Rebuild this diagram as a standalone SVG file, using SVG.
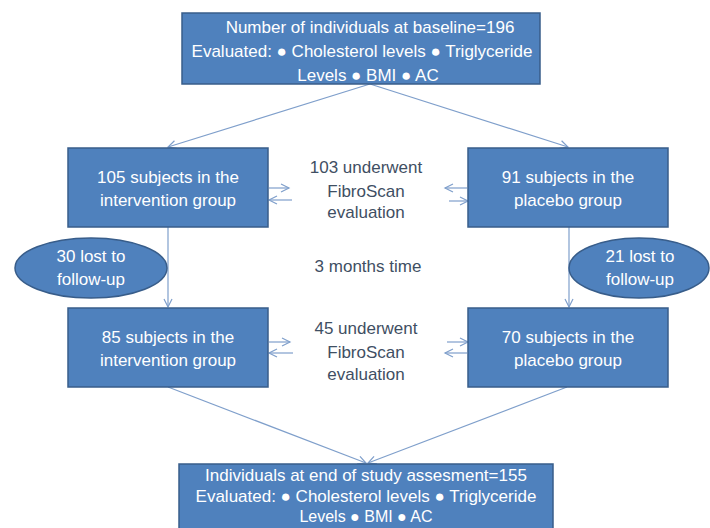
<svg xmlns="http://www.w3.org/2000/svg" width="710" height="528" viewBox="0 0 710 528">
<style>
.box{fill:#4f81bd;stroke:#385d8a;stroke-width:1.5}
.wt{fill:#ffffff;font-family:"Liberation Sans",Arial,sans-serif;font-size:17px;text-anchor:middle}
.gt{fill:#3f4f63;font-family:"Liberation Sans",Arial,sans-serif;font-size:17px;text-anchor:middle}
.ln{stroke:#7f9fcb;stroke-width:1.2;fill:none}
</style>
<defs>
<marker id="ah" markerUnits="userSpaceOnUse" markerWidth="12" markerHeight="12" refX="9" refY="5" orient="auto">
<path d="M1,1 L9,5 L1,9" fill="none" stroke="#7f9fcb" stroke-width="1.2"/>
</marker>
</defs>
<rect width="710" height="528" fill="#ffffff"/>
<g id="connectors">
<line class="ln" x1="370" y1="84" x2="168" y2="147" marker-end="url(#ah)"/>
<line class="ln" x1="370" y1="84" x2="568" y2="147" marker-end="url(#ah)"/>
<line class="ln" x1="168" y1="227" x2="168" y2="307" marker-end="url(#ah)"/>
<line class="ln" x1="569" y1="227" x2="569" y2="307" marker-end="url(#ah)"/>
<line class="ln" x1="168" y1="387" x2="366" y2="463" marker-end="url(#ah)"/>
<line class="ln" x1="567" y1="387" x2="368" y2="463" marker-end="url(#ah)"/>
<line class="ln" x1="269" y1="188" x2="289" y2="188" marker-end="url(#ah)"/>
<line class="ln" x1="292" y1="200" x2="269" y2="200" marker-end="url(#ah)"/>
<line class="ln" x1="467" y1="188" x2="445" y2="188" marker-end="url(#ah)"/>
<line class="ln" x1="449" y1="201" x2="468" y2="201" marker-end="url(#ah)"/>
<line class="ln" x1="269" y1="342" x2="290" y2="342" marker-end="url(#ah)"/>
<line class="ln" x1="293" y1="353" x2="269" y2="353" marker-end="url(#ah)"/>
<line class="ln" x1="447" y1="342" x2="468" y2="342" marker-end="url(#ah)"/>
<line class="ln" x1="467" y1="353" x2="445" y2="353" marker-end="url(#ah)"/>
</g>
<g id="baseline">
<rect class="box" x="182" y="13" width="358" height="71"/>
<text class="wt" x="370" y="33">Number of individuals at baseline=196</text>
<text class="wt" x="362" y="57">Evaluated: ● Cholesterol levels ● Triglyceride</text>
<text class="wt" x="368" y="81">Levels ● BMI ● AC</text>
</g>
<g id="intervention1">
<rect class="box" x="68" y="148" width="200" height="79"/>
<text class="wt" x="168" y="183">105 subjects in the</text>
<text class="wt" x="168" y="206">intervention group</text>
</g>
<g id="placebo1">
<rect class="box" x="468" y="148" width="200" height="79"/>
<text class="wt" x="568" y="183">91 subjects in the</text>
<text class="wt" x="568" y="206">placebo group</text>
</g>
<g id="fibro1">
<text class="gt" x="366" y="173">103 underwent</text>
<text class="gt" x="366" y="197">FibroScan</text>
<text class="gt" x="366" y="218">evaluation</text>
</g>
<g id="months">
<text class="gt" x="368" y="272">3 months time</text>
</g>
<g id="lost1">
<ellipse class="box" cx="91" cy="268" rx="76" ry="30"/>
<text class="wt" x="91" y="262">30 lost to</text>
<text class="wt" x="91" y="285">follow-up</text>
</g>
<g id="lost2">
<ellipse class="box" cx="639" cy="268" rx="70" ry="30"/>
<text class="wt" x="640" y="262">21 lost to</text>
<text class="wt" x="640" y="285">follow-up</text>
</g>
<g id="intervention2">
<rect class="box" x="68" y="308" width="200" height="79"/>
<text class="wt" x="168" y="343">85 subjects in the</text>
<text class="wt" x="168" y="366">intervention group</text>
</g>
<g id="placebo2">
<rect class="box" x="468" y="308" width="200" height="79"/>
<text class="wt" x="568" y="343">70 subjects in the</text>
<text class="wt" x="568" y="366">placebo group</text>
</g>
<g id="fibro2">
<text class="gt" x="366" y="334">45 underwent</text>
<text class="gt" x="366" y="358">FibroScan</text>
<text class="gt" x="366" y="380">evaluation</text>
</g>
<g id="end">
<rect class="box" x="179" y="464" width="374" height="80"/>
<text class="wt" x="366" y="481">Individuals at end of study assesment=155</text>
<text class="wt" x="366" y="502">Evaluated: ● Cholesterol levels ● Triglyceride</text>
<text class="wt" x="366" y="522" style="font-size:16px">Levels ● BMI ● AC</text>
</g>
</svg>
